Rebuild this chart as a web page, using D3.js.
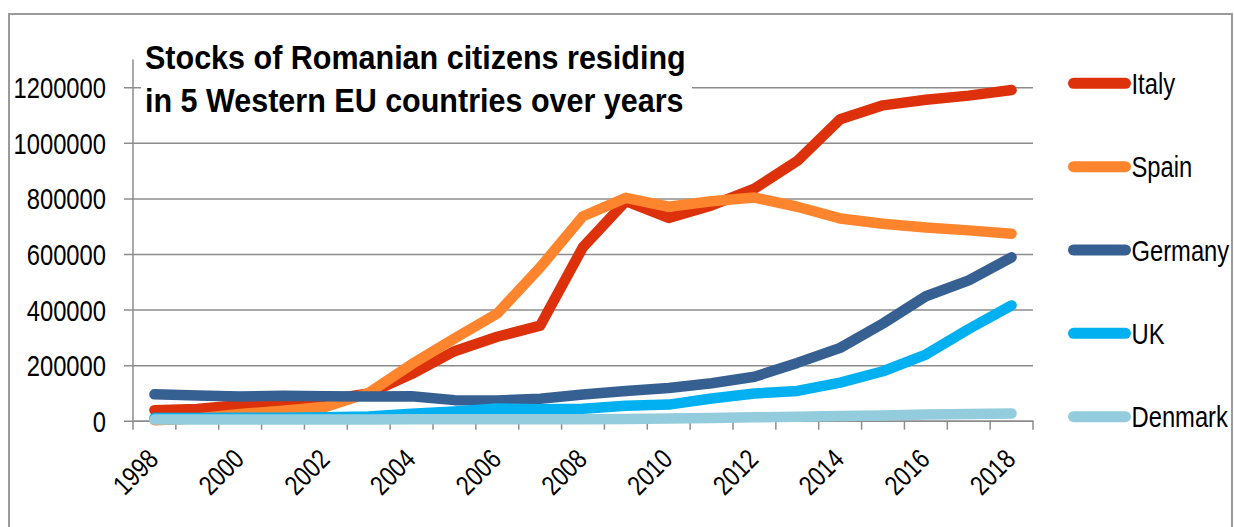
<!DOCTYPE html>
<html>
<head>
<meta charset="utf-8">
<script src="https://cdn.jsdelivr.net/npm/d3@7/dist/d3.min.js"></script>
<style>
  html, body { margin: 0; padding: 0; background: #ffffff; }
  svg { display: block; }
  text { font-family: "Liberation Sans", Arial, sans-serif; fill: #000; }
</style>
</head>
<body>
<svg id="chart" width="1234" height="527"></svg>
<script>
// Years on the category axis
const years = [1998, 1999, 2000, 2001, 2002, 2003, 2004, 2005, 2006, 2007, 2008,
               2009, 2010, 2011, 2012, 2013, 2014, 2015, 2016, 2017, 2018];

// Stocks of Romanian citizens per country and year
const italy   = [38000, 42000, 57000, 66000, 75000, 98000, 168000, 250000, 302000, 342000, 625000,
                 790000, 730000, 775000, 835000, 935000, 1085000, 1135000, 1155000, 1170000, 1190000];
const spain   = [2000, 8000, 24000, 36000, 50000, 100000, 203000, 296000, 386000, 552000, 736000,
                 802000, 770000, 790000, 803000, 770000, 728000, 709000, 695000, 685000, 673000];
const germany = [95000, 91000, 87000, 90000, 88000, 87000, 88000, 74000, 73000, 79000, 94000,
                 107000, 118000, 135000, 158000, 208000, 262000, 350000, 448000, 505000, 588000];
const uk      = [10000, 10000, 11000, 11000, 12000, 15000, 25000, 33000, 44000, 41000, 43000,
                 54000, 58000, 80000, 98000, 107000, 137000, 178000, 238000, 330000, 415000];
const denmark = [4000, 4000, 4000, 4000, 4500, 4500, 5000, 5000, 5000, 5000, 5500,
                 6500, 8000, 10000, 12000, 14000, 17000, 19000, 22000, 24000, 26000];

const seriesNames  = ["Italy", "Spain", "Germany", "UK", "Denmark"];
const seriesValues = [italy, spain, germany, uk, denmark];
const seriesColors = ["#dc310a", "#fe852d", "#376092", "#00b0f0", "#93cddd"];

// Axis ticks and labels
const yTicks = [0, 200000, 400000, 600000, 800000, 1000000, 1200000];
const xLabelYears = [1998, 2000, 2002, 2004, 2006, 2008, 2010, 2012, 2014, 2016, 2018];

const titleLines = ["Stocks of Romanian citizens residing", "in 5 Western EU countries over years"];

const svg = d3.select("#chart");
const W = 1234, H = 527;

const plot = { left: 133, right: 1033, top: 59.5, bottom: 420.7 };
const gridColor = "#8c8c8c";
const narrow = 0.82;   // horizontal squeeze giving a narrow sans face

svg.append("rect").attr("x", 0).attr("y", 0).attr("width", W).attr("height", H).attr("fill", "#fff");

// Chart frame
svg.append("rect")
  .attr("x", 9).attr("y", 14)
  .attr("width", 1223).attr("height", 540)
  .attr("fill", "none").attr("stroke", "#9a9a9a").attr("stroke-width", 2);

const x = d3.scaleBand().domain(years).range([plot.left, plot.right]).paddingInner(0).paddingOuter(0);
const xc = d => x(d) + x.bandwidth() / 2;
const y = d3.scaleLinear().domain([0, 1300000]).range([plot.bottom, plot.top]);

// Horizontal gridlines with outward ticks and value labels
const yAxis = d3.axisLeft(y)
  .tickValues(yTicks)
  .tickSize(-(plot.right - plot.left))
  .tickPadding(0)
  .tickFormat(d3.format("d"));

const yg = svg.append("g").attr("transform", `translate(${plot.left},0)`).call(yAxis);
yg.select(".domain").remove();
yg.selectAll(".tick line")
  .attr("x1", -9)
  .attr("stroke", gridColor).attr("stroke-width", 1.5);
yg.selectAll(".tick text")
  .attr("x", 0)
  .attr("dy", "0.36em")
  .attr("transform", `translate(-27,0) scale(${narrow},1)`)
  .attr("font-size", 29)
  .attr("text-anchor", "end")
  .attr("fill", "#000");

// Vertical value axis line
svg.append("line")
  .attr("x1", plot.left).attr("x2", plot.left)
  .attr("y1", plot.top).attr("y2", plot.bottom)
  .attr("stroke", gridColor).attr("stroke-width", 1.5);

// Category axis: tick marks between years, labels on every other year
const xAxis = d3.axisBottom(x).tickValues([]).tickSizeOuter(0);
const xg = svg.append("g").attr("transform", `translate(0,${plot.bottom})`).call(xAxis);
xg.select(".domain").attr("stroke", gridColor).attr("stroke-width", 1.5);

const boundaries = years.map(d => x(d)).concat([plot.right]);
xg.selectAll("line.boundary")
  .data(boundaries)
  .join("line")
  .attr("class", "boundary")
  .attr("x1", d => d).attr("x2", d => d)
  .attr("y1", 0).attr("y2", 9)
  .attr("stroke", gridColor).attr("stroke-width", 1.5);

svg.append("g")
  .selectAll("text")
  .data(xLabelYears)
  .join("text")
  .attr("transform", d => `translate(${xc(d) + 5.5},461) rotate(-45) scale(${narrow},1)`)
  .attr("text-anchor", "end")
  .attr("font-size", 27.5)
  .text(d => d);

// Series lines
const line = d3.line()
  .x((v, i) => xc(years[i]))
  .y(v => y(v));

svg.append("g")
  .selectAll("path")
  .data(seriesValues)
  .join("path")
  .attr("d", d => line(d))
  .attr("fill", "none")
  .attr("stroke", (d, i) => seriesColors[i])
  .attr("stroke-width", 10.5)
  .attr("stroke-linecap", "round")
  .attr("stroke-linejoin", "round");

// Title on a white box, squeezed to its line width
const titleG = svg.append("g");
titleG.append("rect")
  .attr("x", 141).attr("y", 38)
  .attr("width", 551).attr("height", 82)
  .attr("fill", "#fff");
const titleTexts = titleG.selectAll("text")
  .data(titleLines)
  .join("text")
  .attr("x", 0)
  .attr("y", 0)
  .attr("font-size", 33)
  .attr("font-weight", "bold")
  .text(d => d);
const firstWidth = titleTexts.node().getComputedTextLength();
const titleScale = firstWidth > 0 ? 541 / firstWidth : narrow;
titleTexts.attr("transform", (d, i) => `translate(145,${68.5 + i * 43.5}) scale(${titleScale},1)`);

// Legend
const legend = svg.append("g")
  .selectAll("g")
  .data(seriesNames)
  .join("g")
  .attr("transform", (d, i) => `translate(0,${83.3 + i * 83.35})`);

legend.append("line")
  .attr("x1", 1073.5).attr("x2", 1125.5)
  .attr("y1", 0).attr("y2", 0)
  .attr("stroke", (d, i) => seriesColors[i])
  .attr("stroke-width", 11)
  .attr("stroke-linecap", "round");

legend.append("text")
  .attr("transform", `translate(1131.5,10.5) scale(${narrow},1)`)
  .attr("font-size", 29)
  .text(d => d);
</script>
</body>
</html>
